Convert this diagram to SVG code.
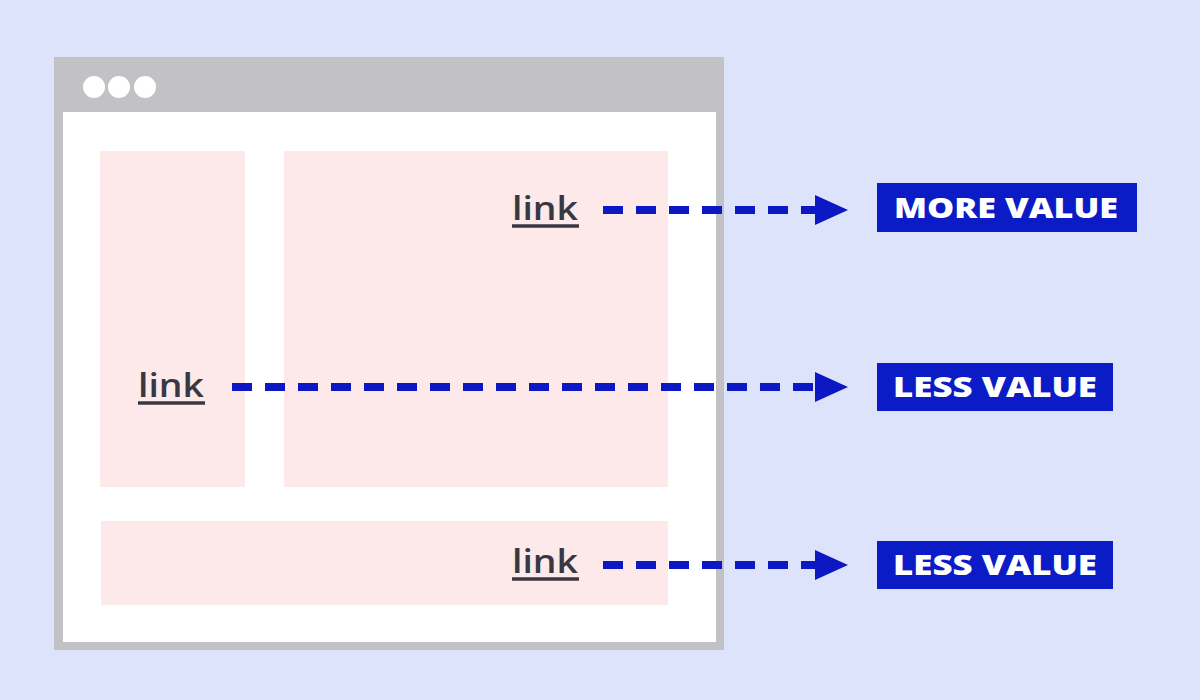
<svg xmlns="http://www.w3.org/2000/svg" width="1200" height="700" viewBox="0 0 1200 700">
<defs>
<style>
.bg{fill:#dde3fa}
.frame{fill:#c2c2c6}
.content{fill:#ffffff}
.panel{fill:#fde9e9}
.dot{fill:#ffffff}
.link{font-family:"Open Sans","Noto Sans",sans-serif;font-size:32px;font-weight:600;fill:#383844}
.ul{stroke:#383844;stroke-width:3.5}
.conn{stroke:#0b18c4;stroke-width:8;stroke-dasharray:20 13;fill:none}
.head{fill:#0b18c4}
.box{fill:#0b1cc6}
.lbl{font-family:"Open Sans","Noto Sans",sans-serif;font-weight:800;font-size:28px;fill:#ffffff;text-anchor:middle}
</style>
</defs>
<rect class="bg" x="0" y="0" width="1200" height="700"/>
<g id="browser">
<rect class="frame" x="54" y="57" width="670" height="593"/>
<rect class="content" x="63" y="112" width="653" height="530"/>
<circle class="dot" cx="94" cy="87" r="11"/>
<circle class="dot" cx="119" cy="87" r="11"/>
<circle class="dot" cx="145" cy="87" r="11"/>
</g>
<g id="panel-left"><rect class="panel" x="100" y="151" width="145" height="336"/></g>
<g id="panel-main"><rect class="panel" x="284" y="151" width="384" height="336"/></g>
<g id="panel-bottom"><rect class="panel" x="101" y="521" width="567" height="84"/></g>
<g id="link-main">
<text class="link" x="512" y="220" textLength="66" lengthAdjust="spacingAndGlyphs">link</text>
<line class="ul" x1="512" y1="226" x2="579" y2="226"/>
</g>
<g id="link-left">
<text class="link" x="138" y="397" textLength="66" lengthAdjust="spacingAndGlyphs">link</text>
<line class="ul" x1="138" y1="403" x2="205" y2="403"/>
</g>
<g id="link-bottom">
<text class="link" x="512" y="573" textLength="66" lengthAdjust="spacingAndGlyphs">link</text>
<line class="ul" x1="512" y1="579" x2="579" y2="579"/>
</g>
<g id="connectors">
<line class="conn" x1="603" y1="210" x2="818" y2="210"/>
<polygon class="head" points="815,195 848,210 815,225"/>
<line class="conn" x1="232" y1="387" x2="818" y2="387"/>
<polygon class="head" points="815,372 848,387 815,402"/>
<line class="conn" x1="603" y1="565" x2="818" y2="565"/>
<polygon class="head" points="815,550 848,565 815,580"/>
</g>
<g id="label-more">
<rect class="box" x="877" y="183" width="260" height="49"/>
<text class="lbl" x="1006" y="218" textLength="224" lengthAdjust="spacingAndGlyphs">MORE VALUE</text>
</g>
<g id="label-less-1">
<rect class="box" x="877" y="363" width="236" height="48"/>
<text class="lbl" x="995" y="397" textLength="204" lengthAdjust="spacingAndGlyphs">LESS VALUE</text>
</g>
<g id="label-less-2">
<rect class="box" x="877" y="541" width="236" height="48"/>
<text class="lbl" x="995" y="575" textLength="204" lengthAdjust="spacingAndGlyphs">LESS VALUE</text>
</g>
</svg>
